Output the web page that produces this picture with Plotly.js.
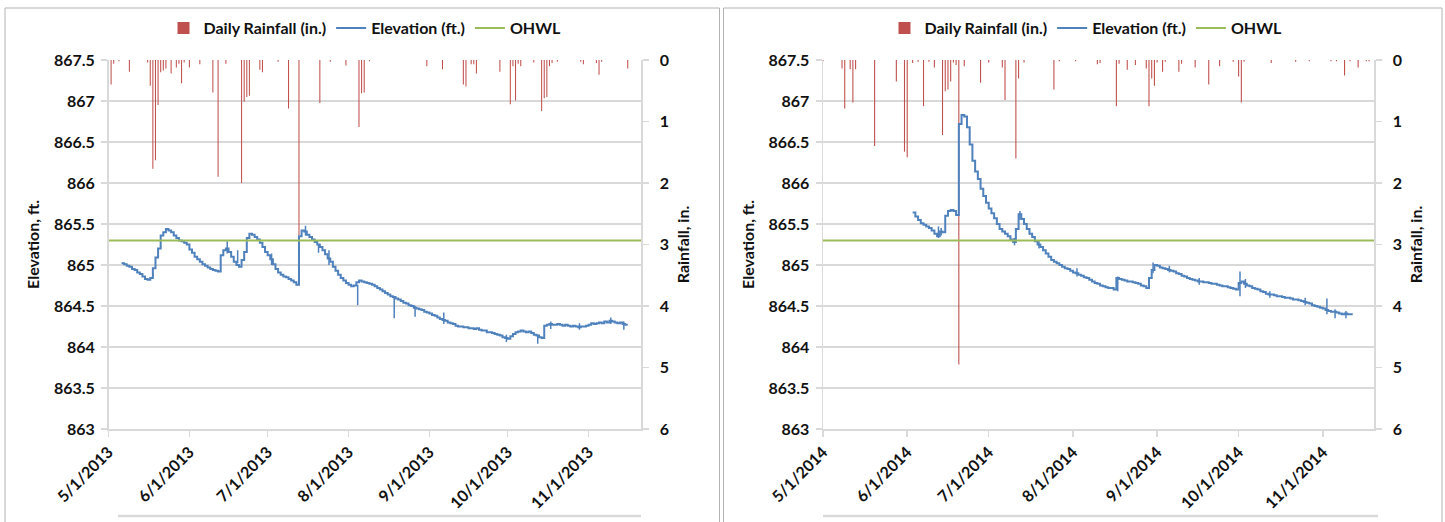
<!DOCTYPE html>
<html>
<head>
<meta charset="utf-8">
<script src="https://cdn.plot.ly/plotly-3.0.1.min.js"></script>
<style>
  html, body { margin: 0; padding: 0; background: #ffffff; }
  #chart { width: 1445px; height: 522px; }
</style>
</head>
<body>
<div id="chart"></div>
<script>
// ---------- month ticks ----------
const tickDates2013 = ['2013-05-01', '2013-06-01', '2013-07-01', '2013-08-01', '2013-09-01', '2013-10-01', '2013-11-01'];
const tickLabels2013 = ['5/1/2013', '6/1/2013', '7/1/2013', '8/1/2013', '9/1/2013', '10/1/2013', '11/1/2013'];
const tickDates2014 = ['2014-05-01', '2014-06-01', '2014-07-01', '2014-08-01', '2014-09-01', '2014-10-01', '2014-11-01'];
const tickLabels2014 = ['5/1/2014', '6/1/2014', '7/1/2014', '8/1/2014', '9/1/2014', '10/1/2014', '11/1/2014'];

// ---------- ordinary high water level (ft.) ----------
const ohwl = 865.3;

// ---------- daily rainfall (in.) ----------
const rain2013Dates = [
  '2013-05-02', '2013-05-03', '2013-05-05', '2013-05-09', '2013-05-16', '2013-05-17', '2013-05-18', '2013-05-19',
  '2013-05-20', '2013-05-21', '2013-05-22', '2013-05-23', '2013-05-25', '2013-05-27', '2013-05-28', '2013-05-29',
  '2013-05-30', '2013-06-01', '2013-06-05', '2013-06-10', '2013-06-12', '2013-06-15', '2013-06-21', '2013-06-22',
  '2013-06-23', '2013-06-24', '2013-06-28', '2013-06-29', '2013-07-05', '2013-07-09', '2013-07-13', '2013-07-21',
  '2013-07-25', '2013-07-31', '2013-08-05', '2013-08-06', '2013-08-07', '2013-08-09', '2013-08-31', '2013-09-06',
  '2013-09-14', '2013-09-15', '2013-09-17', '2013-09-18', '2013-09-19', '2013-09-28', '2013-10-02', '2013-10-03',
  '2013-10-04', '2013-10-05', '2013-10-06', '2013-10-11', '2013-10-14', '2013-10-15', '2013-10-16', '2013-10-17',
  '2013-10-18', '2013-10-20', '2013-10-29', '2013-10-30', '2013-11-04', '2013-11-05', '2013-11-06', '2013-11-16'
];
const rain2013Values = [
  0.40, 0.06, 0.02, 0.19, 0.04, 0.42, 1.77, 1.63,
  0.73, 0.20, 0.17, 0.14, 0.22, 0.12, 0.06, 0.38,
  0.04, 0.12, 0.07, 0.53, 1.90, 0.06, 2.00, 0.68,
  0.60, 0.58, 0.16, 0.20, 0.03, 0.79, 2.85, 0.70,
  0.03, 0.09, 1.09, 0.54, 0.53, 0.02, 0.10, 0.15,
  0.40, 0.43, 0.07, 0.07, 0.22, 0.19, 0.72, 0.10,
  0.66, 0.06, 0.10, 0.04, 0.83, 0.62, 0.60, 0.10,
  0.05, 0.03, 0.03, 0.07, 0.05, 0.24, 0.03, 0.14
];
const rain2014Dates = [
  '2014-05-01', '2014-05-08', '2014-05-09', '2014-05-11', '2014-05-12', '2014-05-13', '2014-05-20', '2014-05-28',
  '2014-05-31', '2014-06-01', '2014-06-03', '2014-06-05', '2014-06-07', '2014-06-09', '2014-06-11', '2014-06-14',
  '2014-06-15', '2014-06-16', '2014-06-17', '2014-06-18', '2014-06-19', '2014-06-20', '2014-06-22', '2014-06-28',
  '2014-07-01', '2014-07-06', '2014-07-07', '2014-07-11', '2014-07-12', '2014-07-14', '2014-07-25', '2014-07-27',
  '2014-08-02', '2014-08-10', '2014-08-11', '2014-08-17', '2014-08-18', '2014-08-21', '2014-08-24', '2014-08-28',
  '2014-08-29', '2014-08-30', '2014-08-31', '2014-09-01', '2014-09-03', '2014-09-04', '2014-09-09', '2014-09-10',
  '2014-09-15', '2014-09-20', '2014-09-24', '2014-09-29', '2014-10-01', '2014-10-02', '2014-10-03', '2014-10-13',
  '2014-10-22', '2014-10-27', '2014-11-04', '2014-11-06', '2014-11-09', '2014-11-11', '2014-11-14', '2014-11-17',
  '2014-11-18'
];
const rain2014Values = [
  0.02, 0.14, 0.79, 0.15, 0.69, 0.15, 1.40, 0.35,
  1.49, 1.58, 0.05, 0.03, 0.75, 0.03, 0.12, 1.22,
  0.51, 0.48, 0.35, 0.04, 0.08, 4.95, 0.10, 0.37,
  0.04, 0.12, 0.65, 1.60, 0.30, 0.04, 0.48, 0.02,
  0.02, 0.07, 0.05, 0.75, 0.06, 0.16, 0.08, 0.14,
  0.75, 0.30, 0.42, 0.04, 0.19, 0.03, 0.19, 0.06,
  0.12, 0.40, 0.10, 0.03, 0.27, 0.69, 0.03, 0.05,
  0.03, 0.02, 0.02, 0.02, 0.25, 0.02, 0.12, 0.02,
  0.02
];

// ---------- daily lake elevation (ft.) ----------
const elev2013Start = '2013-05-06';
const elev2013 = [
  865.02, 865.01, 864.99, 864.98, 864.95, 864.94, 864.91, 864.89, 864.86, 864.83,
  864.82, 864.84, 864.96, 865.09, 865.20, 865.36, 865.40, 865.44, 865.42, 865.40,
  865.36, 865.33, 865.30, 865.29, 865.27, 865.25, 865.19, 865.15, 865.10, 865.07,
  865.04, 865.01, 864.99, 864.97, 864.95, 864.94, 864.93, 864.92, 865.12, 865.18,
  865.20, 865.16, 865.10, 865.04, 865.00, 864.98, 865.06, 865.16, 865.33, 865.38,
  865.37, 865.34, 865.31, 865.27, 865.22, 865.16, 865.12, 865.07, 865.01, 864.95,
  864.91, 864.88, 864.86, 864.85, 864.83, 864.81, 864.79, 864.76, 865.35, 865.42,
  865.41, 865.37, 865.34, 865.31, 865.28, 865.25, 865.22, 865.18, 865.13, 865.08,
  865.04, 864.98, 864.93, 864.88, 864.84, 864.81, 864.78, 864.76, 864.74, 864.75,
  864.79, 864.81, 864.80, 864.79, 864.78, 864.77, 864.76, 864.74, 864.72, 864.70,
  864.68, 864.66, 864.64, 864.62, 864.61, 864.59, 864.58, 864.56, 864.54, 864.53,
  864.51, 864.50, 864.48, 864.47, 864.46, 864.45, 864.43, 864.42, 864.41, 864.39,
  864.38, 864.36, 864.34, 864.33, 864.32, 864.30, 864.29, 864.28, 864.26, 864.25,
  864.25, 864.24, 864.24, 864.23, 864.23, 864.22, 864.23, 864.21, 864.20, 864.20,
  864.18, 864.18, 864.17, 864.16, 864.15, 864.14, 864.12, 864.11, 864.10, 864.13,
  864.16, 864.18, 864.19, 864.20, 864.19, 864.18, 864.19, 864.17, 864.15, 864.14,
  864.12, 864.11, 864.26, 864.27, 864.28, 864.27, 864.27, 864.28, 864.27, 864.26,
  864.27, 864.26, 864.25, 864.26, 864.25, 864.24, 864.25, 864.25, 864.26, 864.27,
  864.29, 864.28, 864.29, 864.30, 864.29, 864.31, 864.30, 864.32, 864.31, 864.30,
  864.29, 864.30, 864.28, 864.27, 864.27
];
const elev2014Start = '2014-06-03';
const elev2014 = [
  865.64, 865.59, 865.55, 865.51, 865.49, 865.47, 865.45, 865.42, 865.38, 865.35,
  865.41, 865.40, 865.60, 865.66, 865.67, 865.66, 865.61, 866.72, 866.83, 866.81,
  866.68, 866.47, 866.27, 866.14, 866.05, 865.93, 865.84, 865.76, 865.69, 865.63,
  865.57, 865.50, 865.44, 865.41, 865.38, 865.35, 865.31, 865.28, 865.44, 865.62,
  865.56, 865.50, 865.44, 865.38, 865.34, 865.29, 865.25, 865.22, 865.18, 865.14,
  865.10, 865.06, 865.04, 865.02, 865.00, 864.98, 864.96, 864.95, 864.93, 864.91,
  864.90, 864.88, 864.87, 864.85, 864.84, 864.82, 864.80, 864.78, 864.77, 864.75,
  864.74, 864.73, 864.72, 864.72, 864.70, 864.84, 864.83, 864.82, 864.81, 864.80,
  864.80, 864.79, 864.78, 864.77, 864.75, 864.74, 864.72, 864.84, 864.94, 865.00,
  864.99, 864.97, 864.96, 864.95, 864.94, 864.93, 864.92, 864.90, 864.89, 864.87,
  864.86, 864.84, 864.83, 864.82, 864.81, 864.80, 864.80, 864.79, 864.79, 864.78,
  864.77, 864.77, 864.76, 864.75, 864.74, 864.74, 864.73, 864.72, 864.71, 864.70,
  864.78, 864.80, 864.77, 864.75, 864.74, 864.72, 864.71, 864.70, 864.68, 864.67,
  864.65, 864.64, 864.64, 864.63, 864.62, 864.62, 864.61, 864.60, 864.60, 864.59,
  864.58, 864.58, 864.57, 864.56, 864.55, 864.54, 864.53, 864.51, 864.50, 864.49,
  864.48, 864.47, 864.45, 864.44, 864.43, 864.43, 864.42, 864.41, 864.40, 864.41,
  864.40, 864.40, 864.40
];

// short-lived sensor swings within a day: [date, low, high]
const swings2013 = [
  ['2013-06-15 12:00', 865.14, 865.29], ['2013-06-19 12:00', 865.02, 865.18], ['2013-07-02 12:00', 865.00, 865.14],
  ['2013-07-15 12:00', 865.36, 865.48], ['2013-07-20 12:00', 865.15, 865.25], ['2013-07-24 12:00', 865.00, 865.18],
  ['2013-08-04 12:00', 864.51, 864.76], ['2013-08-18 12:00', 864.35, 864.60], ['2013-08-26 12:00', 864.37, 864.50],
  ['2013-09-06 12:00', 864.28, 864.42], ['2013-09-30 12:00', 864.06, 864.15], ['2013-10-12 12:00', 864.04, 864.15],
  ['2013-10-17 12:00', 864.22, 864.31], ['2013-10-28 12:00', 864.21, 864.29], ['2013-11-09 12:00', 864.28, 864.36],
  ['2013-11-14 12:00', 864.21, 864.31]
];
const swings2014 = [
  ['2014-06-12 12:00', 865.33, 865.47], ['2014-06-13 12:00', 865.36, 865.45], ['2014-07-10 12:00', 865.24, 865.33],
  ['2014-07-12 12:00', 865.55, 865.66], ['2014-07-19 12:00', 865.20, 865.30], ['2014-08-02 12:00', 864.86, 864.96],
  ['2014-08-17 12:00', 864.68, 864.86], ['2014-08-30 12:00', 864.90, 865.03], ['2014-09-05 12:00', 864.91, 864.99],
  ['2014-09-16 12:00', 864.76, 864.84], ['2014-10-01 12:00', 864.62, 864.92], ['2014-10-03 12:00', 864.72, 864.83],
  ['2014-10-12 12:00', 864.60, 864.68], ['2014-10-25 12:00', 864.51, 864.60], ['2014-11-02 12:00', 864.40, 864.59],
  ['2014-11-05 12:00', 864.35, 864.46], ['2014-11-09 12:00', 864.35, 864.44]
];

// ---------- axis windows ----------
const xRange2013 = ['2013-05-01', '2013-11-21 02:00'];
const xRange2014 = ['2014-05-01', '2014-11-19 20:00'];

// ---------- helpers ----------
function dailyDates(start, n) {
  const p = start.split('-').map(Number);
  const out = [];
  for (let i = 0; i < n; i++) {
    out.push(new Date(Date.UTC(p[0], p[1] - 1, p[2] + i)).toISOString().slice(0, 10));
  }
  return out;
}
function swingSegments(list) {
  const x = [], y = [];
  list.forEach(s => { x.push(s[0], s[0], null); y.push(s[1], s[2], null); });
  return { x, y };
}

const W = 1445, H = 522;
const px = v => v / W;
const py = v => 1 - v / H;

const RED = '#c0504d', BLUE = '#4f81bd', GREEN = '#9bbb59';
const GRID = '#d9d9d9';
const FONT = { family: 'Lato, "Open Sans", sans-serif', size: 16, color: '#111111', weight: 'bold' };
const DAY = 86400000;

function panelTraces(rainDates, rainValues, elevStart, elevValues, swings, xRange, xa, yRain, yElev, legendId) {
  const sw = swingSegments(swings);
  return [
    {
      type: 'bar', name: 'Daily Rainfall (in.)', x: rainDates, y: rainValues,
      width: 0.4 * DAY, marker: { color: RED, line: { width: 0 } },
      xaxis: xa, yaxis: yRain, legend: legendId, hoverinfo: 'skip'
    },
    {
      type: 'scatter', mode: 'lines', name: 'Elevation (ft.)',
      x: dailyDates(elevStart, elevValues.length), y: elevValues,
      line: { color: BLUE, width: 2, shape: 'hv' },
      xaxis: xa, yaxis: yElev, legend: legendId
    },
    {
      type: 'scatter', mode: 'lines', name: 'Elevation swings', showlegend: false,
      x: sw.x, y: sw.y, connectgaps: false,
      line: { color: BLUE, width: 1.5 },
      xaxis: xa, yaxis: yElev
    },
    {
      type: 'scatter', mode: 'lines', name: 'OHWL',
      x: xRange, y: [ohwl, ohwl],
      line: { color: GREEN, width: 2 },
      xaxis: xa, yaxis: yElev, legend: legendId
    }
  ];
}

const data = [].concat(
  panelTraces(rain2013Dates, rain2013Values, elev2013Start, elev2013, swings2013, xRange2013, 'x', 'y', 'y2', 'legend'),
  panelTraces(rain2014Dates, rain2014Values, elev2014Start, elev2014, swings2014, xRange2014, 'x2', 'y3', 'y4', 'legend2')
);

const yDomain = [py(429), py(60)];

function xAxis(domain, range, vals, labels, anchor) {
  return {
    type: 'date', domain, range, anchor,
    tickmode: 'array', tickvals: vals, ticktext: labels, tickangle: -45,
    ticks: 'outside', ticklen: 6, tickcolor: GRID, tickwidth: 1.5,
    showline: true, linecolor: GRID, linewidth: 1.5,
    showgrid: false, zeroline: false, tickfont: FONT, fixedrange: true
  };
}
function rainAxis(anchor) {
  return {
    domain: yDomain, anchor, side: 'right', range: [6, 0],
    tickmode: 'linear', tick0: 0, dtick: 1,
    ticks: 'outside', ticklen: 6, tickcolor: GRID, tickwidth: 1.5,
    showline: true, linecolor: GRID, linewidth: 1.5,
    showgrid: false, zeroline: false, tickfont: FONT, ticklabelstandoff: 8,
    title: { text: 'Rainfall, in.', font: FONT, standoff: 10 }
  };
}
function elevAxis(anchor, overlay) {
  return {
    domain: yDomain, anchor, overlaying: overlay, side: 'left', range: [863, 867.5],
    tickmode: 'linear', tick0: 863, dtick: 0.5,
    ticks: 'outside', ticklen: 6, tickcolor: GRID, tickwidth: 1.5,
    showline: true, linecolor: GRID, linewidth: 1.5,
    showgrid: true, gridcolor: GRID, gridwidth: 1.5, zeroline: false,
    tickfont: FONT, ticklabelstandoff: 3,
    title: { text: 'Elevation, ft.', font: FONT, standoff: 10 }
  };
}

const legendBase = {
  orientation: 'h', xanchor: 'center', yanchor: 'middle', y: py(28),
  font: FONT, bgcolor: 'rgba(0,0,0,0)', itemwidth: 30, tracegroupgap: 0
};

const BORDER = '#b3b3b3';
const layout = {
  width: W, height: H,
  margin: { l: 0, r: 0, t: 0, b: 0 },
  paper_bgcolor: '#ffffff', plot_bgcolor: 'rgba(0,0,0,0)',
  font: FONT,
  barmode: 'overlay',
  xaxis: xAxis([px(108.5), px(641)], xRange2013, tickDates2013, tickLabels2013, 'y'),
  yaxis: rainAxis('x'),
  yaxis2: elevAxis('x', 'y'),
  xaxis2: xAxis([px(823), px(1374)], xRange2014, tickDates2014, tickLabels2014, 'y3'),
  yaxis3: rainAxis('x2'),
  yaxis4: elevAxis('x2', 'y3'),
  legend: Object.assign({}, legendBase, { x: px(365) }),
  legend2: Object.assign({}, legendBase, { x: px(1086) }),
  shapes: [
    // chart frames
    { type: 'rect', xref: 'paper', yref: 'paper', x0: px(5), x1: px(719.5), y0: py(540), y1: py(8), line: { color: BORDER, width: 1 } },
    { type: 'rect', xref: 'paper', yref: 'paper', x0: px(723.5), x1: px(1442), y0: py(540), y1: py(8), line: { color: BORDER, width: 1 } },
    // rule under the date labels
    { type: 'line', xref: 'paper', yref: 'paper', x0: px(118), x1: px(641), y0: py(516), y1: py(516), line: { color: GRID, width: 2.5 } },
    { type: 'line', xref: 'paper', yref: 'paper', x0: px(823), x1: px(1378), y0: py(516), y1: py(516), line: { color: GRID, width: 2.5 } }
  ],
  showlegend: true
};

Plotly.newPlot('chart', data, layout, { staticPlot: true, displayModeBar: false });
</script>
</body>
</html>
